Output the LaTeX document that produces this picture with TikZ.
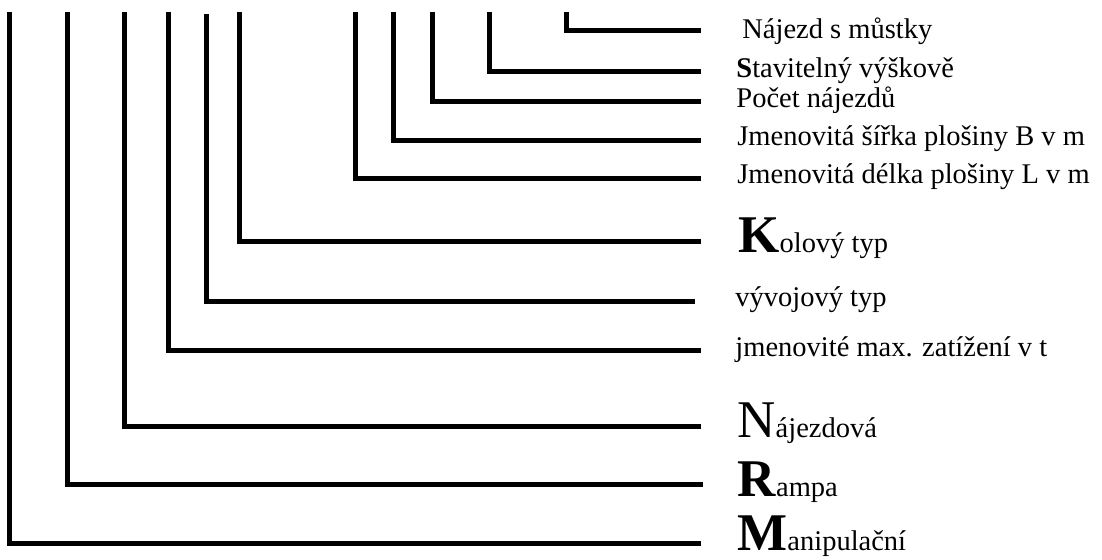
\documentclass[tikz,border=0pt]{standalone}
\usepackage{fontspec}
\setmainfont{Liberation Serif}
\newcommand{\initcap}[1]{{\fontsize{26.5}{30}\selectfont #1}}
\begin{document}
\begin{tikzpicture}[x=0.5pt,y=-0.5pt,
  leader/.style={line width=2.5pt,line cap=butt,line join=miter},
  lbl/.style={anchor=base west,inner sep=0pt,font=\fontsize{14.25}{17}\selectfont}]
\useasboundingbox (0,0) rectangle (1102,560);

% top ends of the leaders
\coordinate (tM) at (9,12);
\coordinate (tR) at (67,12);
\coordinate (tN) at (124,12);
\coordinate (tZ) at (168,12);
\coordinate (tV) at (206,14);
\coordinate (tK) at (239,12);
\coordinate (tL) at (355,12);
\coordinate (tB) at (393,12);
\coordinate (tP) at (432,12);
\coordinate (tS) at (489,12);
\coordinate (tJ) at (566,12);

% right ends of the leaders
\coordinate (eM) at (701,543);
\coordinate (eR) at (703,485);
\coordinate (eN) at (701,427);
\coordinate (eZ) at (701,351);
\coordinate (eV) at (695,302);
\coordinate (eK) at (701,242);
\coordinate (eL) at (701,179);
\coordinate (eB) at (701,141);
\coordinate (eP) at (701,102);
\coordinate (eS) at (701,72);
\coordinate (eJ) at (701,31);

% labels
\node[lbl] (lJ) at (742,39) {Nájezd s můstky};
\node[lbl] (lS) at (736,78) {\textbf{S}tavitelný výškově};
\node[lbl] (lP) at (736,108) {Počet nájezdů};
\node[lbl] (lB) at (737,146) {Jmenovitá šířka plošiny B v m};
\node[lbl] (lL) at (737,184) {Jmenovitá délka plošiny L v m};
\node[lbl] (lK) at (738,253) {\initcap{\textbf{K}}olový typ};
\node[lbl] (lV) at (735,307) {vývojový typ};
\node[lbl] (lZ) at (735,357) {jmenovité max. zatížení v t};
\node[lbl] (lN) at (737,438) {\initcap{N}ájezdová};
\node[lbl] (lR) at (737,496) {\initcap{\textbf{R}}ampa};
\node[lbl] (lM) at (737,550) {\initcap{\textbf{M}}anipulační};

% leaders
\foreach \k in {M,R,N,Z,V,K,L,B,P,S,J}
  \draw[leader] (t\k) |- (e\k);
\end{tikzpicture}
\end{document}
